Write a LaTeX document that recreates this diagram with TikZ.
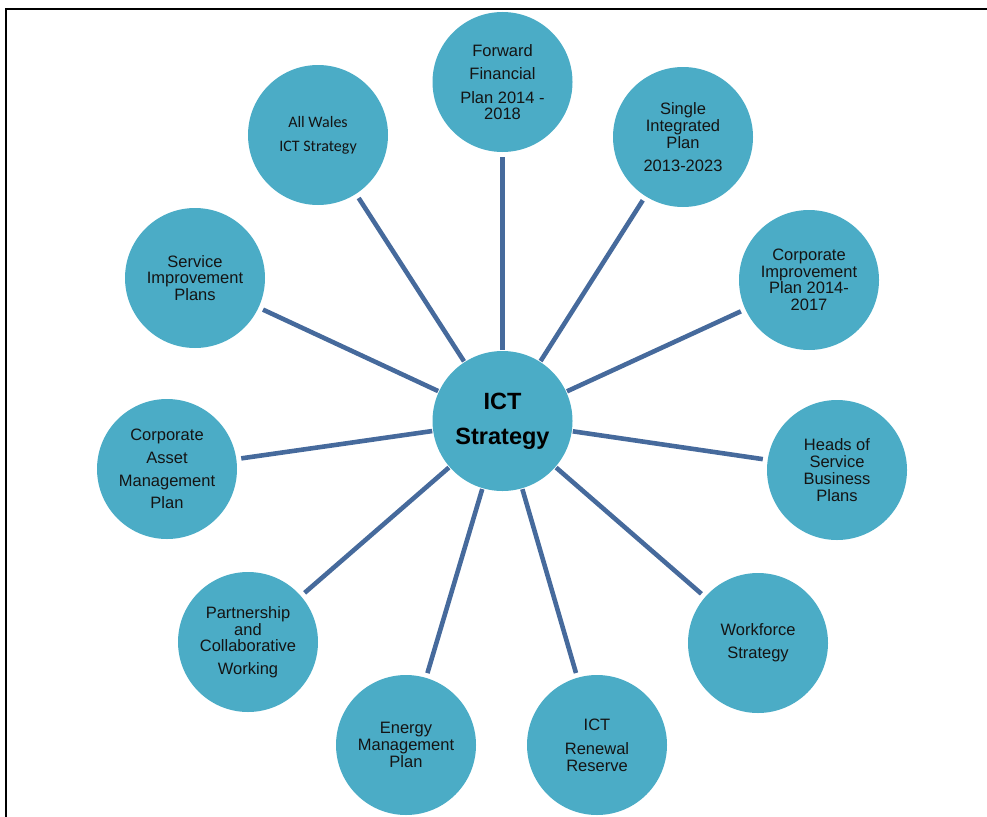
\documentclass[tikz,border=0pt]{standalone}
\usepackage{fontspec}
\setmainfont{Liberation Sans}
\newfontfamily\calibrilike{Carlito}
\usetikzlibrary{backgrounds}
\definecolor{bubble}{RGB}{75,172,198}
\definecolor{spoke}{RGB}{70,106,156}
\definecolor{ink}{RGB}{20,20,20}
\tikzset{
  bubble/.style={circle, fill=bubble, draw=none, minimum size=140pt, inner sep=0pt,
    outer sep=0pt, align=center, text=ink, font=\fontsize{16.5pt}{17pt}\selectfont},
  hub/.style={bubble, font=\bfseries\fontsize{23.5pt}{28pt}\selectfont, text=black},
  spokeline/.style={draw=spoke, line width=4.6pt, shorten <=1pt, shorten >=5pt},
  frameline/.style={draw=black, line width=2pt}
}
\begin{document}
\begin{tikzpicture}[x=1pt, y=-1pt]
  \useasboundingbox (0,0) rectangle (987,816);
  \clip (0,0) rectangle (987,816);

  % page frame (open to the right and bottom)
  \coordinate (fbl) at (6,820);
  \coordinate (ftl) at (6,9);
  \coordinate (ftr) at (990,9);
  \draw[frameline] (fbl) -- (ftl) -- (ftr);

  % central hub
  \node[hub] (hub) at (502.5,421) {ICT\\[7pt]Strategy};

  % surrounding plans
  \node[bubble] (ffp) at (502.5,82) {Forward\\[6pt]Financial\\[7pt]Plan 2014 -\\[-1pt]2018};
  \node[bubble] (sip) at (683,137) {Single\\Integrated\\Plan\\[6pt]2013-2023};
  \node[bubble] (cip) at (809,280) {Corporate\\[-0.5pt]Improvement\\[-0.5pt]Plan 2014-\\[-0.5pt]2017};
  \node[bubble] (hos) at (837,470) {Heads of\\Service\\Business\\[-0.5pt]Plans};
  \node[bubble] (wfs) at (758,643) {Workforce\\[6pt]Strategy};
  \node[bubble] (icr) at (597,745) {ICT\\[7pt]Renewal\\Reserve};
  \node[bubble] (emp) at (406,745) {Energy\\[-0.5pt]Management\\Plan};
  \node[bubble] (pcw) at (248,642) {Partnership\\and\\[-0.5pt]Collaborative\\[6pt]Working};
  \node[bubble] (cam) at (167,469) {Corporate\\[6pt]Asset\\[6pt]Management\\[5pt]Plan};
  \node[bubble] (sim) at (195,278) {Service\\[-0.5pt]Improvement\\Plans};
  \node[bubble, font=\calibrilike\fontsize{16pt}{17pt}\selectfont] (awi) at (318,135) {All Wales\\[7pt]ICT Strategy};

  % spokes from the hub to each plan
  \begin{scope}[on background layer]
    \foreach \p in {ffp,sip,cip,hos,wfs,icr,emp,pcw,cam,sim,awi}
      \draw[spokeline] (hub) -- (\p);
  \end{scope}
\end{tikzpicture}
\end{document}
